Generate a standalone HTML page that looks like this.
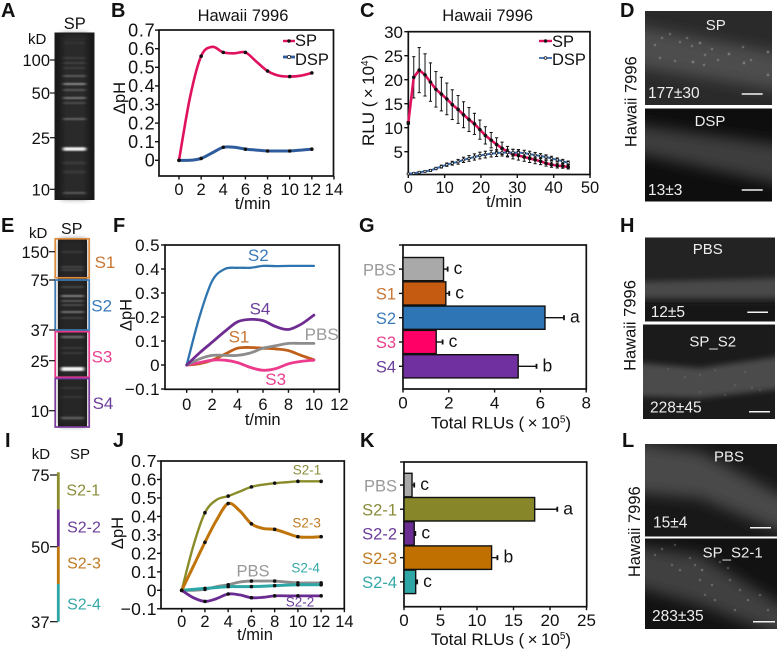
<!DOCTYPE html>
<html>
<head>
<meta charset="utf-8">
<title>Multi-panel figure</title>
<style>
html,body{margin:0;padding:0;background:#fff;width:778px;height:649px;overflow:hidden}
svg{display:block}
text{font-family:"Liberation Sans",sans-serif;fill:#111}
</style>
</head>
<body>
<svg id="fig" width="778" height="649" viewBox="0 0 778 649" xmlns="http://www.w3.org/2000/svg">
<defs>
<filter id="b1" x="-20%" y="-300%" width="140%" height="700%"><feGaussianBlur stdDeviation="1.5 0.9"/></filter>
<filter id="b6" x="-30%" y="-50%" width="160%" height="200%"><feGaussianBlur stdDeviation="7"/></filter>
<filter id="b3" x="-30%" y="-50%" width="160%" height="200%"><feGaussianBlur stdDeviation="3"/></filter>
<filter id="d1" x="-200%" y="-200%" width="500%" height="500%"><feGaussianBlur stdDeviation="0.6"/></filter>
<clipPath id="cD1"><rect x="645" y="11" width="127" height="94"/></clipPath>
<clipPath id="cD2"><rect x="645" y="108.5" width="127" height="93"/></clipPath>
<clipPath id="cH1"><rect x="645" y="237.5" width="130" height="84"/></clipPath>
<clipPath id="cH2"><rect x="643" y="324.5" width="132" height="94.5"/></clipPath>
<clipPath id="cL1"><rect x="645" y="444" width="132" height="92.5"/></clipPath>
<clipPath id="cL2"><rect x="645" y="538.5" width="132" height="90.5"/></clipPath>
</defs>

<g clip-path="url(#cD1)">
<rect x="645" y="11" width="127" height="94" fill="#2a2a2a"/>
<polygon points="630,25 790,55 790,92 630,66" fill="#4e4e4e" filter="url(#b6)"/>
</g>
<g clip-path="url(#cD2)">
<rect x="645" y="108.5" width="127" height="93" fill="#0e0e0e"/>
<polygon points="630,124 790,146 790,186 630,152" fill="#3c3c3c" filter="url(#b6)"/>
</g>
<g clip-path="url(#cH1)">
<rect x="645" y="237.5" width="130" height="84" fill="#232323"/>
<rect x="630" y="302" width="160" height="22" fill="#191919" filter="url(#b3)"/>
<polygon points="630,282 790,278 790,298 630,298" fill="#4a4a4a" filter="url(#b3)"/>
</g>
<g clip-path="url(#cH2)">
<rect x="643" y="324.5" width="132" height="94.5" fill="#1b1b1b"/>
<polygon points="630,362 700,368 790,355 790,388 700,398 630,396" fill="#4c4c4c" filter="url(#b3)"/>
</g>
<g clip-path="url(#cL1)">
<rect x="645" y="444" width="132" height="92.5" fill="#181818"/>
<polygon points="630,442 700,452 790,500 790,535 700,498 630,492" fill="#4a4a4a" filter="url(#b6)"/>
</g>
<g clip-path="url(#cL2)">
<rect x="645" y="538.5" width="132" height="90.5" fill="#121212"/>
<polygon points="630,545 700,555 790,610 790,640 700,605 630,585" fill="#404040" filter="url(#b6)"/>
</g>
<g id="photoOverlay"></g>
</svg>

<script>
/* ---------- chart data ---------- */
var bTimes = [0,1,2,3,4,5,6,7,8,9,10,11,12];
var bSP  = [0,0.34,0.56,0.61,0.58,0.575,0.58,0.53,0.48,0.455,0.45,0.455,0.47];
var bDSP = [0,0,0.01,0.04,0.07,0.07,0.06,0.055,0.05,0.05,0.05,0.055,0.06];
var bXTicks = [0,2,4,6,8,10,12,14];
var bYTicks = [0,0.1,0.2,0.3,0.4,0.5,0.6,0.7];

var cTimes = [0,1.5,3,4.6,6.1,7.6,9.1,10.6,12.1,13.7,15.2,16.7,18.2,19.7,21.2,22.8,24.3,25.8,27.3,28.8,30.3,31.9,33.4,34.9,36.4,37.9,39.4,41,42.5,44];
var cSP  = [11,20.5,22,21,19.5,18,17,16,14.8,13.8,12.7,11.7,10.8,9.6,8.4,7.4,6.5,5.7,5,4.5,4.2,3.9,3.6,3.3,3,2.6,2.3,2.1,2,1.8];
var cSPErr = [0.3,4.3,4.7,4.4,4,3.7,3.5,3.3,3.1,2.9,2.7,2.5,2.2,2,1.8,1.6,1.4,1.3,1.1,1,0.95,0.9,0.85,0.8,0.7,0.6,0.55,0.5,0.45,0.4];
var cDSP = [0.4,0.5,0.7,0.9,1.1,1.5,1.9,2.3,2.6,2.9,3.3,3.6,3.9,4.2,4.4,4.6,4.7,4.8,4.8,4.8,4.8,4.7,4.5,4.3,4.1,3.9,3.6,3.3,3,2.7];
var cDSPErr = [0.1,0.1,0.15,0.15,0.2,0.25,0.3,0.35,0.4,0.5,0.55,0.6,0.65,0.7,0.7,0.7,0.7,0.7,0.7,0.7,0.65,0.6,0.6,0.55,0.5,0.45,0.45,0.4,0.4,0.35];
var cXTicks = [0,10,20,30,40,50];
var cYTicks = [5,10,15,20,25,30];

var fTimes = [0,1,2,3,4,5,6,7,8,9,10];
var fS1 = [0,0.005,0.02,0.045,0.07,0.073,0.07,0.067,0.06,0.04,0.022];
var fS2 = [0,0.2,0.35,0.4,0.405,0.405,0.413,0.412,0.413,0.413,0.413];
var fS3 = [0,0.01,0.02,0.02,0.01,-0.01,-0.022,-0.015,0.005,0.015,0.02];
var fS4 = [0,0.05,0.095,0.14,0.18,0.19,0.185,0.16,0.148,0.17,0.208];
var fPBS = [0,0.025,0.04,0.04,0.04,0.05,0.07,0.08,0.09,0.09,0.09];
var fXTicks = [0,2,4,6,8,10,12];
var fYTicks = [-0.1,0,0.1,0.2,0.3,0.4,0.5];

var gCategories = ['PBS','S1','S2','S3','S4'];
var gValues = [1.77,1.87,6.2,1.45,5.03];
var gErrors = [0.18,0.15,0.83,0.28,0.8];
var gLetters = ['c','c','a','c','b'];
var gXTicks = [0,2,4,6,8];

var jTimes = [0,1,2,3,4,5,6,7,8,9,10,11,12];
var jS21 = [0,0.24,0.42,0.49,0.51,0.535,0.56,0.572,0.58,0.585,0.59,0.59,0.59];
var jS23 = [0,0.13,0.26,0.38,0.47,0.43,0.36,0.335,0.33,0.31,0.29,0.287,0.29];
var jPBS = [0,0,0.005,0.02,0.03,0.045,0.05,0.05,0.05,0.045,0.04,0.04,0.04];
var jS24 = [0,0.005,0.01,0.015,0.02,0.02,0.02,0.022,0.025,0.028,0.03,0.03,0.03];
var jS22 = [0,-0.04,-0.06,-0.045,-0.02,-0.025,-0.04,-0.038,-0.03,-0.03,-0.03,-0.03,-0.03];
var jXTicks = [0,2,4,6,8,10,12,14];
var jYTicks = [-0.1,0,0.1,0.2,0.3,0.4,0.5,0.6,0.7];

var kCategories = ['PBS','S2-1','S2-2','S2-3','S2-4'];
var kValues = [1.1,17.9,1.4,12,1.6];
var kErrors = [0.3,3.1,0.15,0.8,0.2];
var kLetters = ['c','a','c','b','c'];
var kXTicks = [0,5,10,15,20,25];

/* ---------- helpers ---------- */
var NS = 'http://www.w3.org/2000/svg';
var svg = document.getElementById('fig');
function add(tag, attrs, name, parent) {
  var el = document.createElementNS(NS, tag);
  for (var k in attrs) { el.setAttribute(k, attrs[k]); }
  
  
  (parent || svg).appendChild(el);
  return el;
}
function txt(s, x, y, size, name, opts) {
  opts = opts || {};
  var a = {x:x, y:y, 'font-size':size};
  if (opts.anchor) a['text-anchor'] = opts.anchor;
  if (opts.fill) a.style = 'fill:' + opts.fill;
  if (opts.bold) a['font-weight'] = 'bold';
  if (opts.spacing) a['letter-spacing'] = opts.spacing;
  if (opts.rot) a.transform = 'rotate(-90 ' + x + ' ' + y + ')';
  var el = add('text', a, name);
  el.textContent = s;
  return el;
}
function ln(x1, y1, x2, y2, color, w, name) {
  return add('line', {x1:x1, y1:y1, x2:x2, y2:y2, stroke:color, 'stroke-width':w}, name);
}
function rectBox(x, y, w, h, stroke, sw, fill, name) {
  return add('rect', {x:x, y:y, width:w, height:h, stroke:stroke, 'stroke-width':sw, fill:fill}, name);
}
function spline(pts) {
  var d = 'M' + pts[0][0] + ' ' + pts[0][1];
  for (var i = 0; i < pts.length - 1; i++) {
    var p0 = pts[Math.max(i-1,0)], p1 = pts[i], p2 = pts[i+1], p3 = pts[Math.min(i+2,pts.length-1)];
    var c1x = p1[0] + (p2[0]-p0[0])/6, c1y = p1[1] + (p2[1]-p0[1])/6;
    var c2x = p2[0] - (p3[0]-p1[0])/6, c2y = p2[1] - (p3[1]-p1[1])/6;
    d += 'C' + c1x + ' ' + c1y + ' ' + c2x + ' ' + c2y + ' ' + p2[0] + ' ' + p2[1];
  }
  return d;
}
function curve(times, vals, X, Y, color, w, name, markers) {
  var pts = times.map(function(t,i){ return [X(t), Y(vals[i])]; });
  add('path', {d:spline(pts), fill:'none', stroke:color, 'stroke-width':w, 'stroke-linecap':'round'}, name);
  if (markers) {
    times.forEach(function(t,i){
      if (t % 2 === 0) add('circle', {cx:X(t), cy:Y(vals[i]), r:1.8, fill:'#111'}, name + '-point');
    });
  }
}
function axes(c) {
  rectBox(c.left, c.top, c.right-c.left, c.bottom-c.top, '#111', 1.7, 'none', c.id + '-plot-frame');
  c.xTicks.forEach(function(v){
    ln(c.X(v), c.bottom, c.X(v), c.bottom+3.5, '#111', 1.4, c.id + '-x-tick');
    txt(String(v), c.X(v), c.xBase, c.xSize, c.id + '-x-tick-label', {anchor:'middle'});
  });
  (c.yTicks || []).forEach(function(v){
    ln(c.left-4, c.Y(v), c.left, c.Y(v), '#111', 1.4, c.id + '-y-tick');
    var s = v < 0 ? '\u2212' + Math.abs(v) : String(v);
    txt(s, c.yRight, c.Y(v)+6.2, c.ySize, c.id + '-y-tick-label', {anchor:'end', spacing:c.ySpacing});
  });
}
function gel(x, y, w, h, bg, lane, bands, bx1, bx2, name) {
  rectBox(x, y, w, h, 'none', 0, bg, name);
  add('rect', {x:bx1, y:y+2, width:bx2-bx1, height:h-4, fill:lane, filter:'url(#b3)'}, name + '-lane');
  bands.forEach(function(b){
    add('rect', {x:bx1+1, y:b[0]-b[2]/2, width:bx2-bx1-2, height:b[2], rx:1, fill:'#fff', opacity:b[1], filter:'url(#b1)'}, name + '-band');
  });
}
function hbars(c) {
  rectBox(c.left, c.top, c.right-c.left, c.bottom-c.top, '#111', 1.7, 'none', c.id + '-plot-frame');
  ln(c.left-4, c.top, c.left, c.top, '#111', 1.4, c.id + '-top-tick');
  c.xTicks.forEach(function(v){
    ln(c.X(v), c.bottom, c.X(v), c.bottom+3.5, '#111', 1.4, c.id + '-x-tick');
    txt(String(v), c.X(v), c.xBase, c.size, c.id + '-x-tick-label', {anchor:'middle'});
  });
  c.cats.forEach(function(cat,i){
    var y0 = c.barTop + i*c.step, h = c.barH, cy = y0 + h/2;
    var xe = c.X(c.vals[i] + c.errs[i]);
    ln(c.X(c.vals[i]), cy, xe, cy, '#111', 1.4, c.id + '-error-bar-' + cat);
    ln(xe, cy-2.5, xe, cy+2.5, '#111', 1.8, c.id + '-error-cap-' + cat);
    rectBox(c.left, y0, c.X(c.vals[i])-c.left, h, '#111', 1.4, c.fills[i], c.id + '-bar-' + cat);
    ln(c.left-4, cy, c.left, cy, '#111', 1.4, c.id + '-y-tick');
    txt(cat, c.catRight, cy+6.2, 16.5, c.id + '-category-label-' + cat, {anchor:'end', fill:c.labelFills[i]});
    txt(c.letters[i], xe+6, cy+5, 17.5, c.id + '-significance-' + cat);
  });
}

/* ---------- panel letters ---------- */
var panelLetters = [['A',1,17],['B',111,17],['C',360,17],['D',620,17],['E',1,232],['F',113,232],['G',359,232],['H',620,232],['I',5,447],['J',113,447],['K',360,447],['L',622,447]];
panelLetters.forEach(function(p){
  txt(p[0], p[1], p[2], 20, 'panel-label-' + p[0].toLowerCase(), {bold:true});
});

/* ---------- panel A ---------- */
var aBands = [[43,0.06,1.5],[58,0.12,1.5],[63,0.14,1.5],[68,0.12,1.5],[76,0.24,2],[84,0.45,2],[90,0.22,2],[98,0.36,2],[103,0.16,2],[119,0.28,2],[149,0.95,3.5],[163,0.07,3],[172,0.07,3],[193,0.22,2]];
gel(54.5, 32.5, 40, 167.5, '#1a1a1a', '#2c2c2c', aBands, 62, 87, 'gel-a');
txt('SP', 74.7, 29, 16.5, 'gel-a-lane-label', {anchor:'middle'});
txt('kD', 28, 44, 15, 'gel-a-unit-label');
[['100',60],['50',93],['25',137.7],['10',189.3]].forEach(function(m){
  txt(m[0], 50, m[1]+6.2, 16.5, 'gel-a-marker-' + m[0], {anchor:'end'});
  ln(50, m[1], 55, m[1], '#111', 1.2, 'gel-a-tick-' + m[0]);
});

/* ---------- panel B ---------- */
var bX = function(v){ return 179 + v*11.07; };
var bY = function(v){ return 160.3 - v*186; };
axes({id:'b', left:159, right:333.5, top:30, bottom:176, X:bX, Y:bY, xTicks:bXTicks, yTicks:bYTicks, xSize:16.5, ySize:18, ySpacing:0.8, xBase:195, yRight:155.5});
curve(bTimes, bDSP, bX, bY, '#2f5c9c', 3, 'b-series-dsp', true);
curve(bTimes, bSP, bX, bY, '#e0115f', 2.6, 'b-series-sp', true);
txt('Hawaii 7996', 243, 21, 16.5, 'b-title', {anchor:'middle'});
txt('t/min', 252.7, 209, 16.5, 'b-x-axis-title', {anchor:'middle'});
txt('\u0394pH', 125, 98, 16.5, 'b-y-axis-title', {anchor:'middle', rot:true});
ln(283, 41, 295, 41, '#e0115f', 2.4, 'b-legend-line-sp');
add('circle', {cx:289, cy:41, r:1.7, fill:'#111'}, 'b-legend-marker-sp');
txt('SP', 295, 46, 16.5, 'b-legend-sp');
ln(283, 57, 295, 57, '#2f5c9c', 2.8, 'b-legend-line-dsp');
add('circle', {cx:289, cy:57, r:1.6, fill:'#fff', stroke:'#111', 'stroke-width':0.7}, 'b-legend-marker-dsp');
txt('DSP', 295, 65, 16.5, 'b-legend-dsp');

/* ---------- panel C ---------- */
var cX = function(v){ return 408.3 + v*3.634; };
var cY = function(v){ return 175.7 - v*4.8; };
axes({id:'c', left:408.3, right:590, top:31.7, bottom:174.5, X:cX, Y:cY, xTicks:cXTicks, yTicks:cYTicks, xSize:16.5, ySize:17, ySpacing:0, xBase:193, yRight:403});
function errBars(times, vals, errs, name) {
  times.forEach(function(t,i){
    ln(cX(t), cY(vals[i]-errs[i]), cX(t), cY(vals[i]+errs[i]), '#111', 1, name + '-error-bar');
    ln(cX(t)-1.6, cY(vals[i]+errs[i]), cX(t)+1.6, cY(vals[i]+errs[i]), '#111', 1, name + '-error-cap');
    ln(cX(t)-1.6, cY(vals[i]-errs[i]), cX(t)+1.6, cY(vals[i]-errs[i]), '#111', 1, name + '-error-cap');
  });
}
errBars(cTimes, cSP, cSPErr, 'c-sp');
errBars(cTimes, cDSP, cDSPErr, 'c-dsp');
add('polyline', {points:cTimes.map(function(t,i){return cX(t)+','+cY(cSP[i]);}).join(' '), fill:'none', stroke:'#e0115f', 'stroke-width':2.6}, 'c-series-sp');
add('polyline', {points:cTimes.map(function(t,i){return cX(t)+','+cY(cDSP[i]);}).join(' '), fill:'none', stroke:'#3a6aa8', 'stroke-width':2}, 'c-series-dsp');
cTimes.forEach(function(t,i){
  add('circle', {cx:cX(t), cy:cY(cSP[i]), r:1.8, fill:'#111'}, 'c-point-sp');
  add('circle', {cx:cX(t), cy:cY(cDSP[i]), r:1.2, fill:'#dfe8f5', stroke:'#111', 'stroke-width':0.7}, 'c-point-dsp');
});
txt('Hawaii 7996', 487.7, 21, 16.5, 'c-title', {anchor:'middle'});
txt('t/min', 504, 207, 16.5, 'c-x-axis-title', {anchor:'middle'});
var cyt = txt('RLU (\u2009\u00d7\u200910', 374, 146, 17, 'c-y-axis-title', {rot:true});
var csup = document.createElementNS(NS, 'tspan');


csup.setAttribute('font-size', '10');
csup.setAttribute('dy', '-6');
csup.textContent = '4';
cyt.appendChild(csup);
var cclose = document.createElementNS(NS, 'tspan');


cclose.setAttribute('dy', '6');
cclose.textContent = ')';
cyt.appendChild(cclose);
ln(539, 41, 552, 41, '#e0115f', 2.4, 'c-legend-line-sp');
add('circle', {cx:545.5, cy:41, r:1.7, fill:'#111'}, 'c-legend-marker-sp');
txt('SP', 552, 47, 16.5, 'c-legend-sp');
ln(539, 58, 552, 58, '#3a6aa8', 1.8, 'c-legend-line-dsp');
add('circle', {cx:545.5, cy:58, r:1.4, fill:'#dfe8f5', stroke:'#111', 'stroke-width':0.7}, 'c-legend-marker-dsp');
txt('DSP', 552, 65, 16.5, 'c-legend-dsp');

/* ---------- panel E ---------- */
var eBands = [[252,0.09,2],[267,0.14,2],[270,0.14,2],[287,0.2,1.5],[296,0.42,2],[301,0.3,1.5],[305,0.22,1.5],[312,0.36,2],[318,0.16,1.5],[337,0.3,2.5],[348,0.09,2],[353,0.09,2],[369,0.95,4],[388,0.07,2],[397,0.07,2],[418,0.26,2.5]];
gel(58, 238, 29, 189, '#1b1b1b', '#282828', eBands, 60, 85, 'gel-e');
rectBox(55.2, 238.8, 34, 39, '#e08a3c', 1.7, 'none', 'fraction-box-s1');
rectBox(55.2, 280, 34, 50, '#3c7ab5', 1.7, 'none', 'fraction-box-s2');
rectBox(55.2, 331.7, 34, 45.5, '#e8388a', 1.7, 'none', 'fraction-box-s3');
rectBox(55.2, 378.5, 34, 48.5, '#7a3a9e', 1.7, 'none', 'fraction-box-s4');
txt('kD', 29, 238, 15, 'gel-e-unit-label');
txt('SP', 71.7, 234, 16, 'gel-e-lane-label', {anchor:'middle'});
[['150',251.7],['75',280],['37',330],['25',360.7],['10',410.7]].forEach(function(m){
  txt(m[0], 49, m[1]+6.2, 16.5, 'gel-e-marker-' + m[0], {anchor:'end'});
  ln(49, m[1], 55, m[1], '#111', 1.2, 'gel-e-tick-' + m[0]);
});
txt('S1', 105, 268, 17, 'fraction-label-s1', {anchor:'middle', fill:'#c87533'});
txt('S2', 101.7, 311.7, 17, 'fraction-label-s2', {anchor:'middle', fill:'#3a7ab8'});
txt('S3', 102, 362.7, 17, 'fraction-label-s3', {anchor:'middle', fill:'#e8408f'});
txt('S4', 103, 409, 17, 'fraction-label-s4', {anchor:'middle', fill:'#6a3d9a'});

/* ---------- panel F ---------- */
var fX = function(v){ return 186.7 + v*12.72; };
var fY = function(v){ return 365 - v*240; };
axes({id:'f', left:165, right:339.3, top:245, bottom:389.3, X:fX, Y:fY, xTicks:fXTicks, yTicks:fYTicks, xSize:16.5, ySize:17, ySpacing:0.4, xBase:410, yRight:160});
curve(fTimes, fS2, fX, fY, '#2e75b0', 2.3, 'f-series-s2');
curve(fTimes, fS1, fX, fY, '#c05f1a', 2.8, 'f-series-s1');
curve(fTimes, fS3, fX, fY, '#ec3a8c', 2.8, 'f-series-s3');
curve(fTimes, fPBS, fX, fY, '#8c8c8c', 2.8, 'f-series-pbs');
curve(fTimes, fS4, fX, fY, '#6f2c91', 2.8, 'f-series-s4');
txt('S2', 258.3, 261, 17, 'f-label-s2', {anchor:'middle', fill:'#3a7ab8'});
txt('S4', 260, 314.3, 17, 'f-label-s4', {anchor:'middle', fill:'#6a3d9a'});
txt('S1', 239, 342.3, 17, 'f-label-s1', {anchor:'middle', fill:'#c87533'});
txt('PBS', 321.7, 340, 17, 'f-label-pbs', {anchor:'middle', fill:'#999'});
txt('S3', 275.7, 385, 17, 'f-label-s3', {anchor:'middle', fill:'#e8408f'});
txt('t/min', 262.7, 425, 16.5, 'f-x-axis-title', {anchor:'middle'});
txt('\u0394pH', 131.7, 315, 16.5, 'f-y-axis-title', {anchor:'middle', rot:true});

/* ---------- panel G ---------- */
var gX = function(v){ return 403 + v*22.9; };
hbars({id:'g', left:403, right:586.3, top:245, bottom:389, X:gX, xTicks:gXTicks, size:17, xBase:408.5,
  cats:gCategories, vals:gValues, errs:gErrors, letters:gLetters, barTop:257.5, step:24.3, barH:23.2, catRight:396,
  fills:['#a9a9a9','#c55a11','#2e75b6','#ff0066','#7030a0'],
  labelFills:['#999','#c87533','#3a7ab8','#e8408f','#6a3d9a']});
function rluTitle(y, name) {
  var t = txt('Total RLUs (\u2009\u00d7\u200910', 430.7, y, 17, name);
  var s = document.createElementNS(NS, 'tspan');
  
  
  s.setAttribute('font-size', '10');
  s.setAttribute('dy', '-6');
  s.textContent = '5';
  t.appendChild(s);
  var p = document.createElementNS(NS, 'tspan');
  
  
  p.setAttribute('dy', '6');
  p.textContent = ')';
  t.appendChild(p);
}
rluTitle(428.5, 'g-x-axis-title');

/* ---------- panel I ---------- */
txt('kD', 31.7, 459, 15, 'schematic-unit-label');
txt('SP', 80, 459, 15, 'schematic-lane-label', {anchor:'middle'});
[['75',475],['50',546.7],['37',621.7]].forEach(function(m){
  txt(m[0], 49.5, m[1]+6.2, 16.5, 'schematic-marker-' + m[0], {anchor:'end'});
  ln(50, m[1], 58, m[1], '#111', 1.2, 'schematic-tick-' + m[0]);
});
[[472.3,509.3,'#8a8c2a','s2-1'],[509.3,546.7,'#6a2c91','s2-2'],[546.7,584,'#c0750a','s2-3'],[584,621.7,'#2ea6a6','s2-4']].forEach(function(s){
  ln(58.3, s[0], 58.3, s[1], s[2], 2.8, 'schematic-segment-' + s[3]);
});
txt('S2-1', 83.3, 495.7, 16, 'schematic-label-s2-1', {anchor:'middle', fill:'#8a8c3a'});
txt('S2-2', 84, 532.3, 16, 'schematic-label-s2-2', {anchor:'middle', fill:'#6a3d9a'});
txt('S2-3', 84, 568.3, 16, 'schematic-label-s2-3', {anchor:'middle', fill:'#c07a22'});
txt('S2-4', 84, 609.3, 16, 'schematic-label-s2-4', {anchor:'middle', fill:'#35a8a8'});

/* ---------- panel J ---------- */
var jX = function(v){ return 181.7 + v*11.62; };
var jY = function(v){ return 590.3 - v*184.7; };
axes({id:'j', left:161, right:344.3, top:461, bottom:608.7, X:jX, Y:jY, xTicks:jXTicks, yTicks:jYTicks, xSize:16.5, ySize:17.5, ySpacing:0.5, xBase:627, yRight:157});
curve(jTimes, jPBS, jX, jY, '#8c8c8c', 2.8, 'j-series-pbs', true);
curve(jTimes, jS24, jX, jY, '#2ea6a6', 3, 'j-series-s2-4', true);
curve(jTimes, jS22, jX, jY, '#6a2c91', 2.8, 'j-series-s2-2', true);
curve(jTimes, jS21, jX, jY, '#8a8c2a', 2.4, 'j-series-s2-1', true);
curve(jTimes, jS23, jX, jY, '#c0750a', 3, 'j-series-s2-3', true);
txt('S2-1', 307, 474.3, 13.5, 'j-label-s2-1', {anchor:'middle', fill:'#8a8c3a'});
txt('S2-3', 306.7, 527.7, 13.5, 'j-label-s2-3', {anchor:'middle', fill:'#c07a22'});
txt('PBS', 253, 576.7, 16.5, 'j-label-pbs', {anchor:'middle', fill:'#999'});
txt('S2-4', 305.7, 572.7, 13.5, 'j-label-s2-4', {anchor:'middle', fill:'#35a8a8'});
txt('S2-2', 300, 606.7, 13.5, 'j-label-s2-2', {anchor:'middle', fill:'#6a3d9a'});
txt('t/min', 255, 640, 16.5, 'j-x-axis-title', {anchor:'middle'});
txt('\u0394pH', 123, 533, 16.5, 'j-y-axis-title', {anchor:'middle', rot:true});

/* ---------- panel K ---------- */
var kX = function(v){ return 404 + v*7.3; };
hbars({id:'k', left:404, right:586.7, top:462, bottom:606.7, X:kX, xTicks:kXTicks, size:17, xBase:626,
  cats:kCategories, vals:kValues, errs:kErrors, letters:kLetters, barTop:473.3, step:24.2, barH:23.5, catRight:397,
  fills:['#a9a9a9','#87872a','#6a2c91','#c07000','#2ea6a6'],
  labelFills:['#999','#8a8c3a','#6a3d9a','#c07a22','#35a8a8']});
rluTitle(645, 'k-x-axis-title');

/* ---------- micrograph overlays ---------- */
var overlay = document.getElementById('photoOverlay');
var dSpots = [[662,38,1],[670,34,1],[680,42,1],[692,46,1],[693,62,1.2],[675,61,1],[700,43,1.2],[704,65,1],[712,49,1],[705,55,1],[729,54,1.2],[743,47,1],[751,60,1],[744,63,1.2],[768,52,1.2],[768,75,1.1],[660,58,1],[655,45,1],[687,38,1],[718,60,1]];
dSpots.forEach(function(p){
  add('circle', {cx:p[0], cy:p[1], r:p[2], fill:'#ccc', opacity:0.55, filter:'url(#d1)'}, 'root-spot', overlay);
});
var hSpots = [[668,369,0.8],[685,377,0.8],[700,375,0.8],[715,370,0.8],[735,385,0.8],[752,388,0.8],[760,390,0.8],[700,392,0.8],[725,395,0.8],[745,372,0.8]];
hSpots.forEach(function(p){
  add('circle', {cx:p[0], cy:p[1], r:p[2], fill:'#bbb', opacity:0.4, filter:'url(#d1)'}, 'root-spot', overlay);
});
var lSpots = [[662,549,0.8],[675,545,0.7],[680,570,0.8],[690,558,0.7],[702,570,0.9],[700,580,0.8],[712,585,0.8],[705,595,0.7],[720,562,0.8],[728,568,0.8],[730,580,0.8],[740,590,0.8],[748,600,0.8],[760,595,0.8],[768,610,0.8],[672,565,0.7],[695,565,0.8],[735,610,0.8],[655,555,0.7],[715,600,0.8]];
lSpots.forEach(function(p){
  add('circle', {cx:p[0], cy:p[1], r:p[2], fill:'#eee', opacity:0.65, filter:'url(#d1)'}, 'root-spot', overlay);
});
var photoText = [
  ['SP',715.7,30,15,'middle','d-sp-label'],['177\u00b130',648,98,15.5,'start','d-sp-count'],
  ['DSP',710,126,15,'middle','d-dsp-label'],['13\u00b13',648,195,15.5,'start','d-dsp-count'],
  ['PBS',707.7,254,15,'middle','h-pbs-label'],['12\u00b15',650.7,317,15.5,'start','h-pbs-count'],
  ['SP_S2',712.7,346.7,15,'middle','h-sp-s2-label'],['228\u00b145',650,412.3,15.5,'start','h-sp-s2-count'],
  ['PBS',729,461.7,15,'middle','l-pbs-label'],['15\u00b14',653,527.7,15.5,'start','l-pbs-count'],
  ['SP_S2-1',732.7,557.3,15,'middle','l-sp-s2-1-label'],['283\u00b135',652,621,15.5,'start','l-sp-s2-1-count']
];
photoText.forEach(function(t){
  txt(t[0], t[1], t[2], t[3], t[5], {anchor:t[4], fill:'#eee'});
});
var scaleBars = [[741.7,762.7,94],[741.7,762.7,190],[747.3,768,312.3],[749,770,411.7],[750,771,527.7],[753,775,621.7]];
scaleBars.forEach(function(s){
  ln(s[0], s[2], s[1], s[2], '#f2f2f2', 1.5, 'scale-bar');
});
txt('Hawaii 7996', 636.7, 101.7, 16.5, 'd-row-label', {anchor:'middle', rot:true});
txt('Hawaii 7996', 635.7, 325.5, 16.5, 'h-row-label', {anchor:'middle', rot:true});
txt('Hawaii 7996', 640, 531.7, 16.5, 'l-row-label', {anchor:'middle', rot:true});
</script>
</body>
</html>
